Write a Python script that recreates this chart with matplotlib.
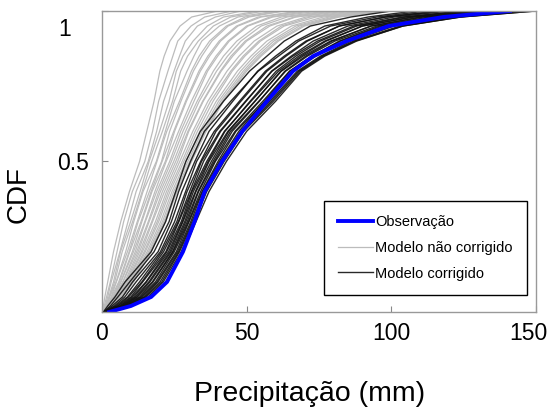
import numpy as np
from matplotlib import pyplot as plt

probs = [0, 0.02, 0.05, 0.1, 0.2, 0.3, 0.4, 0.5, 0.6, 0.7, 0.8, 0.85, 0.9, 0.95, 0.98, 1.0]

# observed precipitation (mm) at each probability level
obs = [2.5, 10, 17, 22.5, 28, 32, 35.5, 41.5, 48.5, 57, 66, 73, 84.5, 99, 118, 141]

# uncorrected model runs (gray)
uncorrected = [
    [0.0, 0.5, 1.0, 2.0, 4.0, 6.5, 9.5, 13.0, 15.5, 18.0, 20.0, 21.5, 23.5, 27.0, 31.0, 40],
    [0.1, 0.8, 1.6, 2.9, 5.2, 7.5, 10.5, 14.8, 17.5, 19.6, 22.8, 24.5, 26.2, 30.8, 35.5, 45],
    [0.2, 1.1, 2.0, 3.2, 6.2, 9.0, 11.8, 16.0, 18.9, 21.3, 24.9, 26.8, 28.8, 33.0, 39.2, 48],
    [0.2, 1.3, 2.4, 4.0, 6.4, 9.9, 13.2, 16.3, 19.9, 23.2, 25.7, 28.0, 31.5, 36.4, 42.0, 54],
    [0.3, 1.4, 2.6, 4.4, 7.0, 10.6, 13.9, 17.2, 20.9, 24.4, 27.2, 29.6, 33.3, 38.5, 44.5, 56],
    [0.3, 1.6, 2.7, 4.9, 8.2, 11.0, 14.2, 18.8, 21.9, 25.0, 29.4, 31.8, 34.5, 40.6, 47.0, 60],
    [0.4, 1.8, 3.2, 5.0, 8.8, 12.2, 15.6, 19.0, 22.4, 26.8, 30.9, 33.6, 37.2, 43.0, 49.5, 62],
    [0.4, 1.9, 3.3, 5.8, 9.4, 12.5, 16.4, 20.6, 23.4, 27.3, 31.6, 34.5, 38.0, 43.6, 50.8, 63],
    [0.4, 2.1, 3.7, 6.1, 9.6, 13.5, 17.0, 20.8, 24.8, 28.9, 33.5, 36.6, 40.5, 46.5, 54.0, 68],
    [0.5, 2.2, 3.9, 6.5, 10.5, 13.8, 17.3, 21.9, 25.1, 29.2, 34.0, 37.2, 41.0, 47.0, 55.0, 70],
    [0.5, 2.4, 4.2, 6.6, 10.9, 14.8, 18.3, 22.2, 26.5, 30.9, 36.0, 39.4, 43.6, 50.0, 58.0, 72],
    [0.6, 2.5, 4.3, 7.2, 11.5, 15.0, 18.9, 23.4, 27.2, 31.8, 36.5, 40.0, 44.0, 50.5, 59.0, 75],
    [0.6, 2.7, 4.7, 7.3, 12.0, 16.0, 19.6, 24.0, 28.0, 32.9, 38.5, 42.0, 46.6, 53.5, 62.0, 78],
    [0.6, 2.8, 4.9, 7.9, 12.5, 16.3, 20.2, 24.8, 28.9, 33.6, 39.6, 43.4, 48.0, 55.0, 64.0, 80],
    [0.7, 2.9, 5.0, 8.3, 13.0, 17.2, 20.9, 25.5, 29.7, 34.8, 40.9, 44.6, 49.5, 57.0, 66.5, 82],
    [0.7, 3.1, 5.4, 8.6, 13.6, 17.5, 21.6, 26.2, 30.0, 35.0, 41.2, 45.2, 50.0, 58.0, 67.0, 85],
    [0.8, 3.2, 5.6, 8.9, 14.0, 18.5, 22.3, 26.9, 31.4, 36.6, 43.2, 47.4, 52.6, 60.5, 70.5, 87],
    [0.8, 3.4, 5.9, 9.3, 14.6, 19.1, 22.9, 27.7, 32.2, 37.5, 44.5, 48.8, 54.2, 62.0, 72.0, 90],
    [0.8, 3.5, 6.0, 9.7, 15.0, 19.6, 23.5, 28.3, 33.0, 38.4, 45.0, 49.4, 54.8, 63.0, 74.0, 92],
    [0.9, 3.6, 6.3, 10.0, 15.6, 20.3, 24.2, 29.0, 33.8, 39.5, 46.8, 51.5, 57.0, 65.5, 76.5, 94],
    [0.9, 3.7, 6.5, 10.3, 16.1, 20.9, 24.8, 29.7, 34.6, 40.3, 47.9, 52.6, 58.4, 67.0, 78.5, 96],
    [1.0, 3.9, 6.8, 10.6, 16.5, 21.4, 25.4, 30.3, 35.2, 41.0, 48.8, 53.6, 59.4, 68.2, 80.0, 98],
    [1.0, 4.0, 6.9, 10.8, 16.8, 21.7, 25.8, 30.7, 35.6, 41.6, 49.5, 54.4, 60.4, 69.3, 81.0, 99],
    [1.0, 4.0, 7.0, 11.0, 17.0, 22.0, 26.0, 31.0, 36.0, 42.0, 50.0, 55.0, 61.0, 70.0, 82.0, 100],
]

# bias-corrected model runs (black)
corrected = [
    [0.5, 2.0, 4.5, 8.0, 17.0, 22.0, 25.5, 29.0, 34.0, 42.0, 51.0, 57.0, 63.0, 72.0, 86.0, 100],
    [0.6, 2.9, 5.5, 9.6, 18.0, 23.2, 26.5, 30.6, 35.4, 44.5, 54.0, 61.0, 68.0, 79.0, 95.0, 112],
    [0.7, 3.5, 7.1, 10.6, 19.4, 24.0, 27.6, 32.1, 37.0, 45.2, 53.8, 60.0, 67.0, 77.0, 92.0, 108],
    [0.8, 4.3, 7.9, 11.8, 20.2, 25.1, 28.9, 32.7, 38.8, 47.5, 56.5, 63.0, 70.5, 82.0, 98.0, 118],
    [0.8, 4.7, 8.8, 13.0, 20.7, 25.9, 29.4, 34.1, 39.4, 48.0, 57.0, 63.6, 71.0, 82.0, 98.0, 116],
    [0.9, 5.3, 9.2, 13.8, 21.3, 26.4, 30.3, 34.4, 40.7, 49.6, 58.8, 66.0, 74.5, 87.0, 104, 126],
    [0.9, 5.5, 10.0, 14.1, 22.1, 26.6, 30.9, 35.1, 41.0, 49.8, 58.6, 65.4, 73.0, 85.0, 101, 120],
    [1.0, 6.1, 10.4, 15.2, 22.4, 27.4, 31.1, 36.2, 42.3, 51.5, 61.0, 68.0, 77.0, 90.0, 108, 130],
    [1.0, 6.3, 11.0, 15.4, 23.0, 27.8, 31.6, 36.7, 42.5, 51.2, 60.2, 67.0, 75.5, 88.0, 105, 124],
    [1.1, 6.7, 11.5, 16.2, 23.5, 28.0, 32.3, 37.0, 43.5, 52.8, 62.0, 69.5, 79.0, 93.0, 111, 134],
    [1.1, 6.9, 12.0, 16.6, 23.9, 28.6, 32.5, 37.8, 43.8, 52.9, 61.8, 68.8, 77.5, 90.0, 107, 128],
    [1.2, 7.3, 12.3, 17.4, 24.4, 29.0, 33.2, 38.4, 44.4, 54.2, 63.5, 71.0, 80.5, 95.0, 113, 137],
    [1.2, 7.5, 13.0, 17.7, 24.6, 29.5, 33.4, 38.9, 45.0, 54.4, 63.2, 70.4, 79.5, 93.0, 110, 132],
    [1.2, 7.9, 13.4, 18.5, 25.0, 29.9, 34.1, 39.2, 46.0, 55.6, 64.8, 72.5, 82.5, 97.0, 116, 140],
    [1.3, 8.2, 13.8, 19.0, 25.7, 30.1, 34.6, 40.1, 46.3, 56.5, 66.0, 74.0, 84.0, 99.0, 118, 143],
    [1.3, 8.6, 14.4, 19.4, 26.1, 30.7, 34.8, 40.6, 47.3, 56.2, 65.0, 72.6, 82.0, 96.0, 115, 138],
    [1.4, 8.9, 14.8, 20.1, 26.5, 31.1, 35.5, 41.0, 47.9, 58.0, 67.5, 75.5, 86.0, 101, 120, 146],
    [1.4, 9.2, 15.2, 20.7, 26.8, 31.5, 35.9, 41.7, 48.6, 58.6, 68.0, 76.0, 87.0, 103, 123, 148],
    [1.4, 9.5, 15.9, 21.2, 27.4, 31.8, 36.2, 42.2, 49.0, 59.2, 68.5, 76.5, 87.5, 104, 124, 150],
    [1.5, 10.0, 16.5, 22.0, 28.0, 32.5, 37.0, 43.0, 50.0, 60.0, 69.0, 77.0, 88.0, 104, 124, 150],
]

xticks = [0, 50, 100, 150]
xticklabels = ['0', '50', '100', '']

plt.rcParams['font.family'] = ['Liberation Sans', 'DejaVu Sans']

fig = plt.figure(figsize=(5.51, 4.07), dpi=100)
ax = fig.add_axes([0.185, 0.2334, 0.7877, 0.7396])

for i, run in enumerate(uncorrected):
    ax.plot(run, probs, color='#bcbcbc', lw=0.9,
            label='Modelo não corrigido' if i == 0 else None)
for i, run in enumerate(corrected):
    ax.plot(run, probs, color='#111111', lw=1.0, alpha=0.9,
            label='Modelo corrigido' if i == 0 else None)
ax.plot(obs, probs, color='#0000ff', lw=2.8, label='Observação')

ax.set_xlim(0, 150)
ax.set_ylim(0, 1)
ax.set_xticks(xticks, xticklabels)
ax.set_yticks([0.5, 1], ['0.5', ''])
ax.tick_params(direction='in', length=4, width=0.8, color='#888888',
               labelsize=16.5)
ax.tick_params(axis='x', pad=7)
ax.tick_params(axis='y', pad=9)
# the "1" and "150" labels sit a little inside the frame in the original
ax.annotate('1', xy=(0, 1), xycoords='axes fraction', xytext=(-37, -19),
            textcoords='offset pixels', ha='center', va='center', fontsize=16.5)
ax.annotate('150', xy=(1, 0), xycoords='axes fraction', xytext=(-8, -9.7),
            textcoords='offset pixels', ha='center', va='top', fontsize=16.5)

for s in ax.spines.values():
    s.set_color('#999999')
    s.set_linewidth(1.0)

ax.set_xlabel('Precipitação (mm)', fontsize=20.5)
ax.xaxis.set_label_coords(0.479, -0.228)
ax.set_ylabel('CDF', fontsize=20)
ax.yaxis.set_label_coords(-0.163, 0.389)

h, l = ax.get_legend_handles_labels()
order = [2, 0, 1]
leg = ax.legend([h[k] for k in order], [l[k] for k in order],
                loc='lower right', bbox_to_anchor=(0.979, 0.056),
                borderaxespad=0, fontsize=10.5, handlelength=2.4,
                handletextpad=0.1, labelspacing=0.8, borderpad=1.0,
                fancybox=False, framealpha=1, edgecolor='black')
leg.get_frame().set_linewidth(1.0)

plt.savefig('out.png', dpi=100)
